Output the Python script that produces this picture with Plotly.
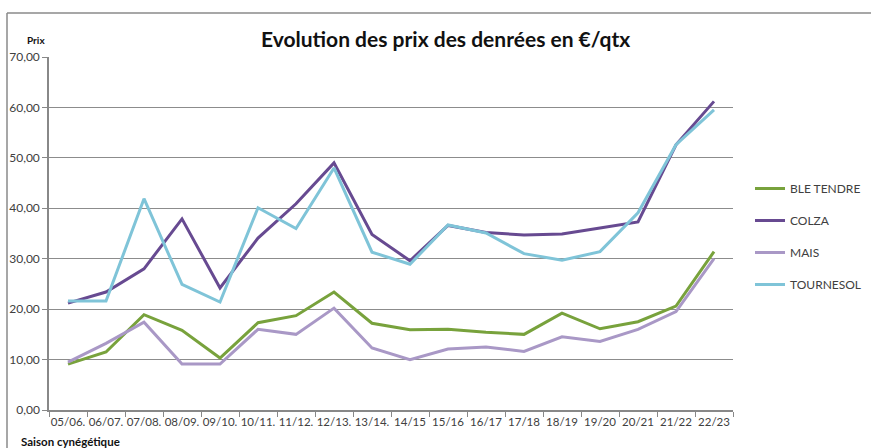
import plotly.graph_objects as go

seasons = ["05/06.", "06/07.", "07/08.", "08/09.", "09/10.", "10/11.", "11/12.", "12/13.", "13/14.",
           "14/15", "15/16", "16/17", "17/18", "18/19", "19/20", "20/21", "21/22", "22/23"]
ble_tendre = [9.1, 11.5, 18.9, 15.8, 10.3, 17.3, 18.7, 23.4, 17.2, 15.9, 16.0, 15.4, 15.0, 19.2, 16.1, 17.5, 20.6, 31.4]
colza = [21.2, 23.4, 28.0, 37.9, 24.2, 34.1, 40.9, 49.0, 34.8, 29.6, 36.6, 35.2, 34.7, 34.9, 36.1, 37.3, 52.6, 61.2]
mais = [9.5, 13.2, 17.4, 9.1, 9.1, 16.0, 15.0, 20.2, 12.3, 10.0, 12.1, 12.5, 11.6, 14.5, 13.6, 16.0, 19.5, 30.0]
tournesol = [21.6, 21.6, 41.9, 24.9, 21.4, 40.1, 36.0, 48.0, 31.3, 28.9, 36.7, 35.1, 31.0, 29.7, 31.4, 39.1, 52.6, 59.5]

series = [("BLE TENDRE", ble_tendre, "#78A23C"),
          ("COLZA", colza, "#674A91"),
          ("MAIS", mais, "#A998C6"),
          ("TOURNESOL", tournesol, "#7FC4D8")]

fig = go.Figure()
for i, (name, vals, col) in enumerate(series):
    fig.add_trace(go.Scatter(x=seasons, y=vals, name=name, mode="lines",
                             line=dict(color=col, width=3), legendgroup=f"g{i}"))

L, R, T, B = 49, 138, 57, 38
W, H = 871, 448
pw = W - L - R
ph = H - T - B

def px(x):
    return (x - L) / pw

def py(y):
    return (H - B - y) / ph

font = "Lato, 'Open Sans', sans-serif"

fig.update_layout(
    width=W, height=H,
    margin=dict(l=L, r=R, t=T, b=B, autoexpand=False),
    paper_bgcolor="white", plot_bgcolor="white",
    separators=", ",
    font=dict(family=font, size=12, color="#404040"),
    showlegend=True,
    legend=dict(x=px(750), y=py(174), xanchor="left", yanchor="top",
                traceorder="grouped", tracegroupgap=13, itemwidth=30,
                font=dict(size=12, color="#404040", family=font),
                bgcolor="rgba(0,0,0,0)"),
    xaxis=dict(type="category", range=[-0.5, 17.5], tickson="boundaries",
               ticks="outside", ticklen=5, tickcolor="#888888",
               showline=True, linecolor="#888888", linewidth=1.5,
               showgrid=False, tickfont=dict(size=11.5, color="#404040"),
               tickangle=0, automargin=False),
    yaxis=dict(range=[0, 70], dtick=10, tickformat=".2f",
               ticks="outside", ticklen=5, tickcolor="#888888",
               showline=True, linecolor="#888888", linewidth=1.5,
               showgrid=True, gridcolor="#8c8c8c", gridwidth=1,
               zeroline=False, tickfont=dict(size=12, color="#404040"),
               automargin=False),
    annotations=[
        dict(text="<b>Evolution des prix des denrées en €/qtx</b>", x=px(446), y=py(38),
             xref="paper", yref="paper", showarrow=False, xanchor="center", yanchor="middle",
             font=dict(size=21, color="#111111", family=font)),
        dict(text="<b>Prix</b>", x=px(25), y=py(40), xref="paper", yref="paper",
             showarrow=False, xanchor="left", yanchor="middle",
             font=dict(size=10, color="#111111", family=font)),
        dict(text="<b>Saison cynégétique</b>", x=px(19), y=py(441), xref="paper", yref="paper",
             showarrow=False, xanchor="left", yanchor="middle",
             font=dict(size=11.5, color="#111111", family=font)),
    ],
    shapes=[
        dict(type="line", xref="paper", yref="paper", x0=px(7), x1=px(875), y0=py(13), y1=py(13),
             line=dict(color="#8a8a8a", width=1.5)),
        dict(type="line", xref="paper", yref="paper", x0=px(7), x1=px(7), y0=py(13), y1=py(460),
             line=dict(color="#8a8a8a", width=1.5)),
    ],
)

fig.write_html("out.html", config={"displayModeBar": False},
               post_script="document.body.style.margin='0';document.body.style.overflow='hidden';")
